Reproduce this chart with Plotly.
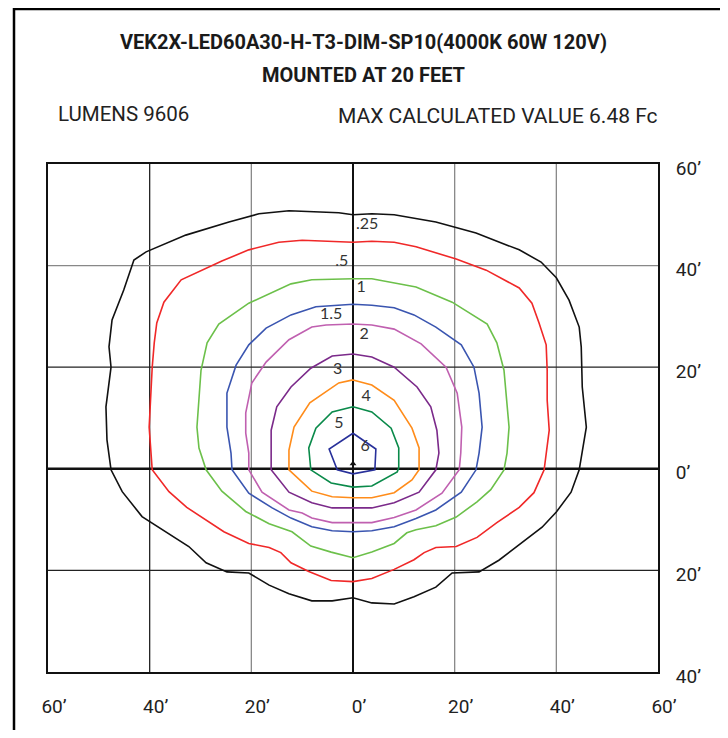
import plotly.graph_objects as go

# Iso-footcandle contour levels (Fc) and colours
levels = [".25", ".5", "1", "1.5", "2", "3", "4", "5", "6"]
colors = ["#111111", "#f02828", "#6cc04a", "#3a55b0", "#c060b0",
          "#7b2a8a", "#ff8c1a", "#0a8a4a", "#28309a"]

# Contour vertices (feet)
c025_x = [0, 3.7, 8.1, 16.3, 24.2, 32.7, 37.0, 40.0, 42.5, 44.5, 44.9, 45.1, 45.9, 45.1, 44.5, 42.9, 40.0, 37.2, 33.2, 28.7, 24.8, 19.5, 16.3, 12.0, 8.1, 3.7, 0, -4.1, -8.1, -12.6, -16.5, -20.5, -24.8, -28.9, -32.3, -40.1, -41.5, -45.4, -47.6, -48.4, -48.6, -47.6, -48.0, -47.4, -45.1, -43.1, -40.7, -32.9, -24.4, -18.5, -12.6, -2.8]
c025_y = [50.0, 50.2, 50.0, 48.6, 46.4, 43.1, 40.7, 37.6, 33.2, 27.9, 24.0, 16.1, 8.2, 3.1, -0.2, -4.6, -8.5, -11.5, -14.6, -18.0, -20.3, -20.5, -23.3, -25.2, -26.6, -26.4, -25.4, -26.0, -26.0, -24.6, -22.9, -20.5, -20.3, -18.5, -15.3, -10.2, -9.4, -4.5, -0.2, 5.7, 12.2, 20.0, 24.0, 29.3, 35.2, 41.1, 42.7, 46.0, 48.6, 50.2, 50.8, 50.4]

c05_x = [0, 3.7, 8.1, 12.4, 20.3, 26.2, 32.7, 35.2, 36.6, 38.0, 38.2, 38.2, 38.6, 38.0, 37.6, 35.6, 32.7, 28.3, 24.4, 20.3, 16.3, 14.0, 12.0, 8.1, 3.7, 0, -4.3, -8.7, -12.2, -14.2, -16.5, -20.5, -25.4, -32.7, -36.2, -39.5, -40.1, -39.5, -39.1, -38.6, -37.2, -33.8, -28.9, -25.8, -20.5, -14.6, -10.0]
c05_y = [44.6, 44.8, 44.6, 43.7, 41.3, 39.1, 35.6, 32.6, 28.7, 24.4, 19.4, 13.5, 7.6, 3.1, -0.2, -4.7, -7.6, -10.6, -13.5, -15.3, -15.5, -16.5, -17.9, -19.8, -21.6, -22.2, -22.0, -20.2, -18.5, -16.5, -15.5, -14.7, -12.4, -7.6, -4.5, -0.2, 8.2, 20.0, 24.8, 28.7, 32.8, 37.2, 39.5, 40.9, 43.1, 44.6, 45.0]

c1_x = [0, 3.7, 12.4, 19.5, 26.4, 28.3, 29.7, 30.7, 30.3, 29.7, 27.1, 24.4, 20.3, 16.3, 12.4, 10.6, 8.1, 3.7, 0, -4.3, -8.3, -12.0, -16.5, -21.1, -25.8, -28.9, -30.3, -30.7, -29.9, -28.7, -26.4, -20.5, -12.2, -8.1]
c1_y = [37.4, 37.4, 35.8, 32.8, 28.5, 24.8, 19.4, 8.2, 3.1, -0.2, -4.1, -6.5, -9.5, -11.2, -12.0, -12.6, -14.7, -16.4, -17.5, -16.4, -15.2, -12.4, -10.8, -8.4, -4.4, -0.2, 4.1, 8.2, 19.4, 24.8, 28.5, 32.6, 36.4, 37.2]

c15_x = [0, 3.7, 8.1, 12.0, 16.3, 21.3, 23.8, 24.8, 25.4, 24.8, 24.2, 21.3, 16.3, 12.4, 8.1, 3.7, 0, -4.1, -8.1, -12.2, -15.9, -20.5, -23.8, -24.0, -24.8, -24.8, -23.0, -20.5, -17.1, -12.2, -7.3]
c15_y = [32.4, 32.2, 31.7, 30.3, 27.9, 24.4, 20.0, 14.9, 8.2, 3.1, -0.2, -4.6, -8.1, -9.8, -11.4, -12.2, -12.4, -12.2, -11.4, -9.7, -7.7, -4.8, -0.2, 3.1, 8.2, 14.9, 20.4, 24.4, 27.7, 30.3, 31.9]

c2_x = [0, 3.7, 8.1, 13.4, 18.3, 20.5, 21.4, 21.2, 20.9, 17.5, 12.4, 8.1, 3.7, 0, -4.1, -8.1, -10.0, -12.6, -17.9, -20.5, -20.5, -21.1, -21.1, -19.9, -17.1, -12.6, -8.1, -5.3]
c2_y = [28.5, 28.3, 27.5, 24.6, 20.0, 14.9, 8.2, 3.1, -0.2, -4.8, -8.1, -9.6, -10.6, -10.6, -10.6, -9.7, -8.7, -8.1, -4.6, -0.2, 3.1, 7.0, 11.0, 16.9, 21.0, 25.4, 27.9, 28.3]

c3_x = [0, 3.7, 8.1, 12.6, 15.3, 16.5, 16.9, 16.3, 13.0, 8.1, 3.7, 0, -4.1, -8.1, -12.6, -16.1, -16.1, -16.1, -15.0, -12.2, -8.3, -4.1]
c3_y = [22.6, 22.0, 20.0, 16.1, 12.2, 7.6, 3.1, -0.2, -4.6, -6.7, -7.7, -7.7, -7.7, -6.7, -4.6, -0.2, 1.7, 7.6, 12.2, 16.1, 19.8, 22.2]

c4_x = [0, 3.7, 8.1, 11.6, 13.0, 13.0, 11.6, 8.1, 3.7, 0, -4.1, -8.1, -12.6, -12.6, -11.6, -8.5, -2.8]
c4_y = [17.5, 16.5, 13.5, 8.0, 4.1, -0.2, -2.2, -4.7, -5.7, -5.7, -5.5, -4.4, -0.2, 3.7, 8.2, 13.0, 16.9]

c5_x = [0, 3.7, 7.5, 9.0, 9.0, 8.7, 3.7, 0, -4.3, -8.3, -8.7, -7.3, -4.1]
c5_y = [12.2, 11.2, 8.0, 4.1, 0.2, -0.6, -3.4, -3.6, -2.8, -0.2, 4.1, 8.0, 11.2]

c6_x = [0, 4.5, 4.3, 0, -3.1, -4.7]
c6_y = [7.0, 3.9, -0.2, -1.0, -0.2, 3.9]

# Contour label positions (feet)
label_x = [2.8, -2.2, 1.6, -4.3, 2.2, -3.0, 2.6, -2.8, 2.4]
label_y = [48.0, 40.7, 35.6, 30.3, 26.4, 19.5, 14.2, 8.9, 4.3]

# Axes ticks
x_ticks = [-60, -40, -20, 0, 20, 40, 60]
x_ticktext = ["60’", "40’", "20’", "0’", "20’", "40’", "60’"]
y_ticks = [-40, -20, 0, 20, 40, 60]
y_ticktext = ["40’", "20’", "0’", "20’", "40’", "60’"]

title1 = "VEK2X-LED60A30-H-T3-DIM-SP10(4000K 60W 120V)"
title2 = "MOUNTED AT 20 FEET"
lumens_text = "LUMENS 9606"
max_text = "MAX CALCULATED VALUE 6.48 Fc"

contours = [(c025_x, c025_y), (c05_x, c05_y), (c1_x, c1_y), (c15_x, c15_y),
            (c2_x, c2_y), (c3_x, c3_y), (c4_x, c4_y), (c5_x, c5_y), (c6_x, c6_y)]

# page has an 8px body margin: work in screen px, convert to paper coords
PL, PR, PT, PB = 48, 658, 164, 672
def px(sx):
    return (sx - PL) / (PR - PL)
def py(sy):
    return (PB - sy) / (PB - PT)

fig = go.Figure()

dark_v = [-40]
gray_v = [-20, 20, 40]
dark_h = [20, -20]
gray_h = [40]
for v in gray_v:
    fig.add_shape(type="line", x0=v, x1=v, y0=-40, y1=60, xref="x", yref="y",
                  line=dict(color="#888888", width=1.3), layer="below")
for v in dark_v:
    fig.add_shape(type="line", x0=v, x1=v, y0=-40, y1=60, xref="x", yref="y",
                  line=dict(color="#222222", width=1.3), layer="below")
for h in gray_h:
    fig.add_shape(type="line", x0=-60, x1=60, y0=h, y1=h, xref="x", yref="y",
                  line=dict(color="#888888", width=1.3), layer="below")
for h in dark_h:
    fig.add_shape(type="line", x0=-60, x1=60, y0=h, y1=h, xref="x", yref="y",
                  line=dict(color="#222222", width=1.3), layer="below")
fig.add_shape(type="line", x0=0, x1=0, y0=-40, y1=60, xref="x", yref="y",
              line=dict(color="#111111", width=2), layer="below")
fig.add_shape(type="line", x0=-60, x1=60, y0=0, y1=0, xref="x", yref="y",
              line=dict(color="#111111", width=2.5), layer="below")

for (cx, cy), col, lv in zip(contours, colors, levels):
    fig.add_trace(go.Scatter(x=cx + [cx[0]], y=cy + [cy[0]], mode="lines",
                             line=dict(color=col, width=1.6), name=lv,
                             hoverinfo="skip"))

fig.add_trace(go.Scatter(x=label_x, y=label_y, mode="text", text=levels,
                         textfont=dict(family="Lato", size=16, color="#333333"),
                         hoverinfo="skip"))
fig.add_trace(go.Scatter(x=[0], y=[1.0], mode="markers",
                         marker=dict(symbol="triangle-up", size=6, color="#111111"),
                         hoverinfo="skip"))

fig.update_xaxes(range=[-60, 60], tickvals=x_ticks, ticktext=x_ticktext,
                 showgrid=False, zeroline=False, showline=True, mirror=True,
                 linecolor="#111111", linewidth=2, ticks="",
                 ticklabelstandoff=16, ticklabelshift=6,
                 tickfont=dict(family="Roboto", size=19, color="#222222"))
fig.update_yaxes(range=[-40, 60], tickvals=y_ticks, ticktext=y_ticktext,
                 side="right", showgrid=False, zeroline=False, showline=True,
                 mirror=True, linecolor="#111111", linewidth=2, ticks="",
                 ticklabelstandoff=12, ticklabelshift=4,
                 tickfont=dict(family="Roboto", size=19, color="#222222"))

# outer frame
fig.add_shape(type="rect", xref="paper", yref="paper",
              x0=px(14), x1=px(722), y0=py(760), y1=py(9),
              line=dict(color="#000000", width=2.5), layer="above")

fig.add_annotation(text=title1, xref="paper", yref="paper", x=px(363),
                   y=py(42), showarrow=False, xanchor="center", yanchor="middle",
                   font=dict(family="Roboto", size=20, color="#1a1a1a", weight="bold"))
fig.add_annotation(text=title2, xref="paper", yref="paper", x=px(363),
                   y=py(75), showarrow=False, xanchor="center", yanchor="middle",
                   font=dict(family="Roboto", size=20, color="#1a1a1a", weight="bold"))
fig.add_annotation(text=lumens_text, xref="paper", yref="paper", x=px(56),
                   y=py(114), showarrow=False, xanchor="left", yanchor="middle",
                   font=dict(family="Roboto", size=20.5, color="#222222"))
fig.add_annotation(text=max_text, xref="paper", yref="paper", x=px(660),
                   y=py(116), showarrow=False, xanchor="right", yanchor="middle",
                   font=dict(family="Roboto", size=21, color="#222222"))

fig.update_layout(width=720, height=722, showlegend=False,
                  margin=dict(l=PL - 8, r=720 - (PR - 8), t=PT - 8, b=722 - (PB - 8)),
                  paper_bgcolor="white", plot_bgcolor="white")

fig.write_html("out.html")
